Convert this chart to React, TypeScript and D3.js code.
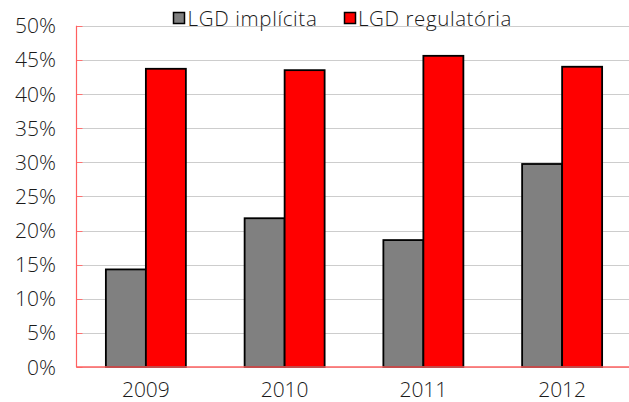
import React from "react";
import * as d3 from "d3";

const categories = ["2009", "2010", "2011", "2012"];
const seriesNames = ["LGD implícita", "LGD regulatória"];
const implicita = [0.143, 0.218, 0.186, 0.2975];
const regulatoria = [0.437, 0.435, 0.456, 0.44];
const yTicks = [0, 0.05, 0.1, 0.15, 0.2, 0.25, 0.3, 0.35, 0.4, 0.45, 0.5];
const colors = ["#808080", "#ff0000"];

const W = 629;
const H = 402;
const left = 76.5;
const right = 631.5;
const top = 25.8;
const bottom = 367;

export default function App() {
  const x = d3
    .scaleBand<string>()
    .domain(categories)
    .range([left, right])
    .paddingInner(1 - 80 / 138.75)
    .paddingOuter((1 - 80 / 138.75) / 2);
  const xs = d3.scaleBand<string>().domain(seriesNames).range([0, x.bandwidth()]);
  const y = d3.scaleLinear().domain([0, 0.5]).range([bottom, top]);
  const fmt = d3.format(".0%");
  const series = [implicita, regulatoria];
  const font = "'Open Sans', sans-serif";
  return (
    <div style={{ position: "absolute", left: 0, top: 0 }}>
      <svg width={W} height={H} style={{ display: "block" }}>
        <rect width={W} height={H} fill="#fff" />
        {yTicks.map((t) => (
          <line
            key={"g" + t}
            x1={left}
            x2={W}
            y1={Math.round(y(t)) + 0.5}
            y2={Math.round(y(t)) + 0.5}
            stroke="#9a9a9a"
            strokeWidth={1}
            strokeDasharray="1,1"
          />
        ))}
        {yTicks.map((t) => (
          <line
            key={"t" + t}
            x1={left}
            x2={left + 6}
            y1={Math.round(y(t)) + 0.5}
            y2={Math.round(y(t)) + 0.5}
            stroke="#ff7070"
            strokeWidth={1}
          />
        ))}
        {yTicks.map((t) => (
          <text
            key={"l" + t}
            x={56}
            y={y(t) + 7.5}
            textAnchor="end"
            fontFamily={font}
            fontWeight={300}
            fontSize={21}
            fill="#1a1a1a"
          >
            {fmt(t)}
          </text>
        ))}
        {categories.map((c, i) =>
          series.map((s, j) => (
            <rect
              key={c + j}
              x={(x(c) as number) + (xs(seriesNames[j]) as number)}
              y={y(s[i])}
              width={xs.bandwidth()}
              height={bottom - y(s[i])}
              fill={colors[j]}
              stroke="#000"
              strokeWidth={1.8}
            />
          ))
        )}
        <line x1={left} x2={left} y1={top} y2={bottom} stroke="#ff6060" strokeWidth={1.2} />
        <line x1={left} x2={W} y1={bottom} y2={bottom} stroke="#ff6060" strokeWidth={1.6} />
        {categories.map((c) => (
          <text
            key={"x" + c}
            x={(x(c) as number) + x.bandwidth() / 2}
            y={396.5}
            textAnchor="middle"
            fontFamily={font}
            fontWeight={300}
            fontSize={21}
            fill="#1a1a1a"
          >
            {c}
          </text>
        ))}
        <rect x={173.5} y={12.5} width={11} height={11} fill={colors[0]} stroke="#000" strokeWidth={1.5} />
        <text x={187.5} y={26} fontFamily={font} fontWeight={300} fontSize={20.5} letterSpacing={0.65} fill="#1a1a1a">
          {seriesNames[0]}
        </text>
        <rect x={344.5} y={12.5} width={11} height={11} fill={colors[1]} stroke="#000" strokeWidth={1.5} />
        <text x={358} y={26} fontFamily={font} fontWeight={300} fontSize={20.5} letterSpacing={0.6} fill="#1a1a1a">
          {seriesNames[1]}
        </text>
      </svg>
    </div>
  );
}
